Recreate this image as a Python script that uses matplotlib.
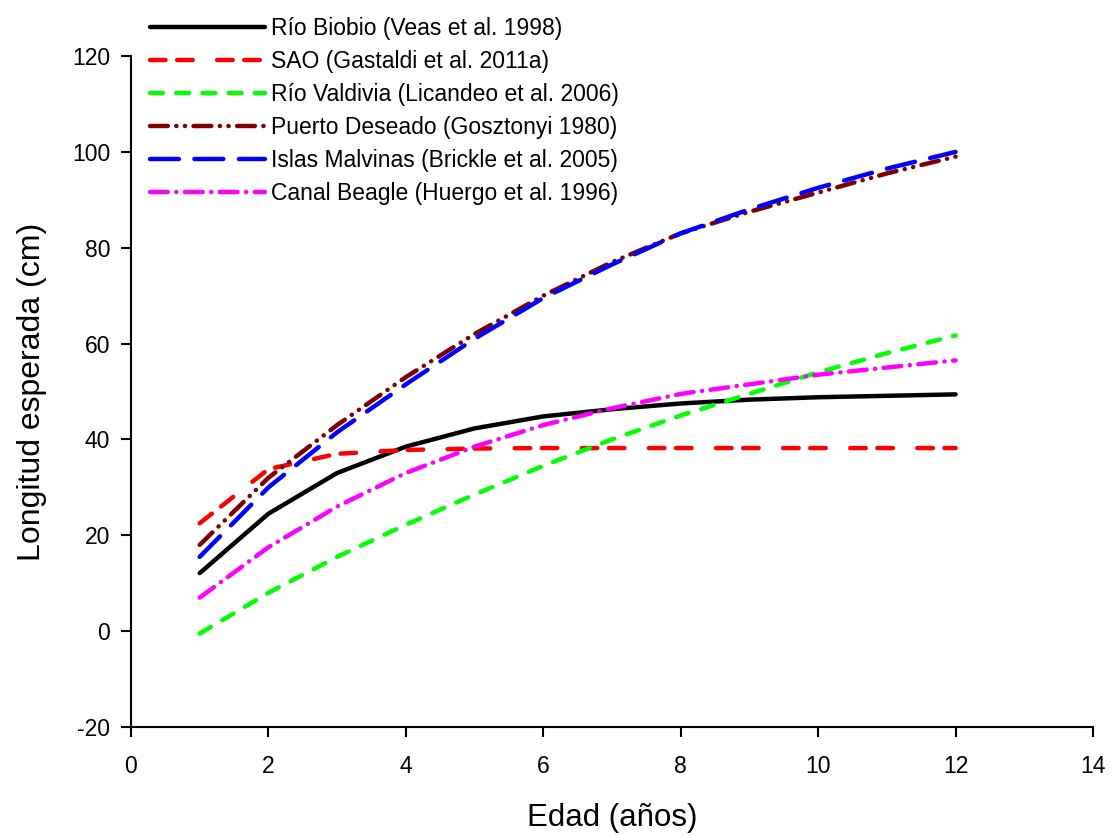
import matplotlib
matplotlib.use("Agg")
import matplotlib.pyplot as plt

plt.rcParams['font.family'] = ['Liberation Sans', 'DejaVu Sans']
plt.rcParams['axes.unicode_minus'] = False

edad = [1, 2, 3, 4, 5, 6, 7, 8, 9, 10, 11, 12]

biobio = [12.1, 24.5, 33.0, 38.5, 42.3, 44.8, 46.3, 47.5, 48.3, 48.8, 49.1, 49.4]
sao = [22.5, 33.8, 37.0, 37.8, 38.1, 38.2, 38.2, 38.2, 38.2, 38.2, 38.2, 38.2]
valdivia = [-0.5, 8.0, 15.5, 22.2, 28.5, 34.5, 40.0, 45.0, 49.5, 54.0, 58.0, 61.7]
deseado = [18.0, 32.0, 43.0, 53.0, 62.0, 70.0, 77.0, 83.0, 87.5, 91.5, 95.5, 99.0]
malvinas = [15.5, 30.0, 41.5, 51.5, 61.0, 69.5, 76.5, 83.0, 88.0, 92.5, 96.5, 100.0]
beagle = [7.0, 17.5, 26.0, 33.0, 38.5, 43.0, 46.5, 49.5, 51.5, 53.5, 55.0, 56.5]

labels = [
    "Río Biobio (Veas et al. 1998)",
    "SAO (Gastaldi et al. 2011a)",
    "Río Valdivia (Licandeo et al. 2006)",
    "Puerto Deseado (Gosztonyi 1980)",
    "Islas Malvinas (Brickle et al. 2005)",
    "Canal Beagle (Huergo et al. 1996)",
]
colors = ["#000000", "#ff0000", "#00ff00", "#800000", "#0000ff", "#ff00ff"]
dashes = [None,
          (3.5, 2.6, 3.5, 5.5),
          (2.9, 3.0),
          (4.0, 1.9, 0.05, 1.9, 0.05, 1.9),
          (6.5, 3.5),
          (4.0, 1.9, 0.05, 1.9)]
series = [biobio, sao, valdivia, deseado, malvinas, beagle]

fig = plt.figure(figsize=(11.11, 8.36), dpi=100)
ax = fig.add_axes([0.1179, 0.1304, 0.8659, 0.8026])

lw = 3.2
for y, lab, c, d in zip(series, labels, colors, dashes):
    if d is None:
        ax.plot(edad, y, color=c, lw=lw, label=lab, solid_capstyle='round')
    else:
        ax.plot(edad, y, color=c, lw=lw, label=lab, dashes=d, dash_capstyle='round')

ax.set_xlim(0, 14)
ax.set_ylim(-20, 120)
ax.set_xticks(range(0, 15, 2))
ax.set_yticks(range(-20, 121, 20))
for s in ['top', 'right']:
    ax.spines[s].set_visible(False)
for s in ['left', 'bottom']:
    ax.spines[s].set_linewidth(1.5)
ax.tick_params(direction='out', length=7, width=1.5, labelsize=16.5)
ax.tick_params(axis='x', pad=13)
ax.tick_params(axis='y', pad=8)
ax.set_xlabel("Edad (años)", fontsize=22.5, labelpad=18)
ax.set_ylabel("Longitud esperada (cm)", fontsize=23, labelpad=18)

fig.legend(loc='upper left', bbox_to_anchor=(150 / 1111, 1 - 17 / 836), frameon=False,
           fontsize=16.5, handlelength=5.0, handletextpad=0.3, labelspacing=0.44,
           borderaxespad=0, borderpad=0)

fig.savefig("out.png", dpi=100)
